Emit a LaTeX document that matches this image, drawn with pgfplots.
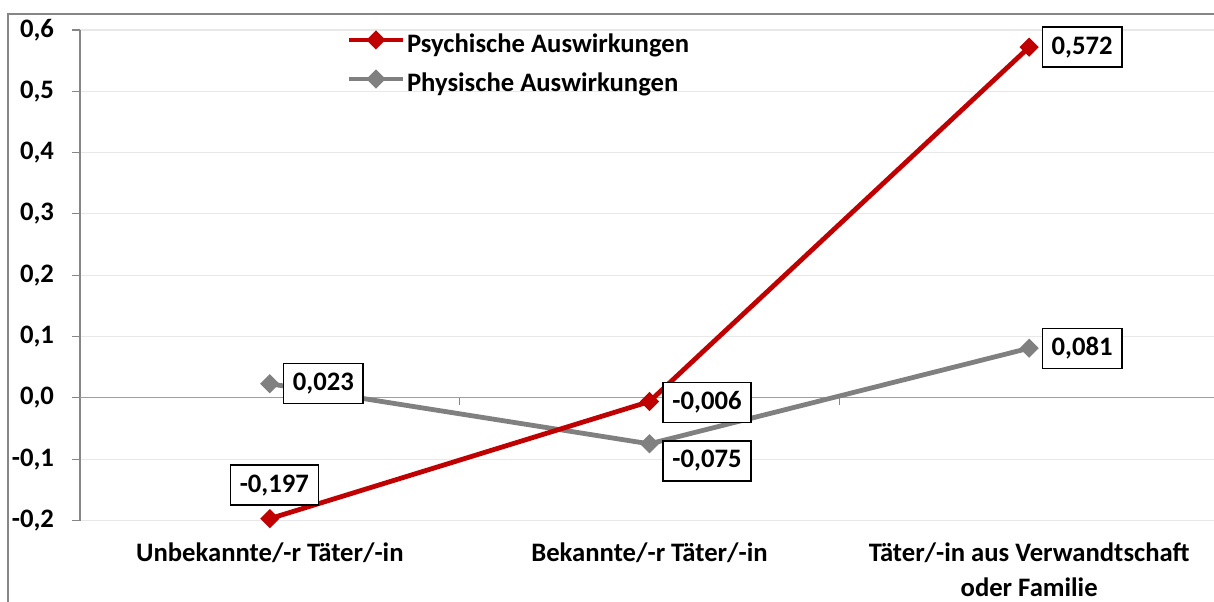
\documentclass[border=0pt]{standalone}
\usepackage{fontspec}
\setmainfont{Carlito}
\usepackage{pgfplots}
\usepackage{pgfplotstable}
\pgfplotsset{compat=1.18}
\definecolor{psyred}{HTML}{C00000}
\definecolor{phygray}{HTML}{808080}
\definecolor{axgray}{HTML}{868686}
\definecolor{gridgray}{HTML}{E8E8E8}
\newcommand\F{\fontsize{20}{26}\selectfont\bfseries}

\pgfplotstableread{
x y label dx dy
0 -0.197 -0,197 4.5 33.5
1 -0.006 -0,006 57.5 -1
2 0.572 0,572 53 0
}\psych
\pgfplotstableread{
x y label dx dy
0 0.023 0,023 53.5 0
1 -0.075 -0,075 57.5 -17
2 0.081 0,081 53 0
}\phys

\begin{document}
\begin{tikzpicture}
\useasboundingbox (0pt,0pt) rectangle (910.5pt,450.75pt);
\draw[axgray, line width=1.5pt] (6pt,-20pt) -- (6pt,440.25pt) -- (930pt,440.25pt);
\begin{axis}[
  at={(60pt,60.375pt)}, anchor=south west, scale only axis,
  width=854.25pt, height=367.9pt,
  xmin=-0.5, xmax=2.5, ymin=-0.2, ymax=0.6,
  axis x line*=bottom, axis y line*=left,
  x axis line style={draw=none},
  y axis line style={axgray, line width=0.8pt},
  xtick={0,1,2},
  xticklabels={Unbekannte/-r Täter/-in, Bekannte/-r Täter/-in, {Täter/-in aus Verwandtschaft\\oder Familie}},
  x tick style={draw=none},
  xticklabel style={font=\F, align=center, anchor=north, yshift=-7.5pt},
  ytick={-0.2,-0.1,0,0.1,0.2,0.3,0.4,0.5,0.6},
  y tick style={axgray, line width=0.8pt},
  tick align=outside, major tick length=6pt,
  yticklabel style={font=\F, xshift=-10pt, /pgf/number format/fixed, /pgf/number format/fixed zerofill, /pgf/number format/precision=1, /pgf/number format/use comma, /pgf/number format/assume math mode=true},
  ymajorgrids, grid style={gridgray, line width=0.8pt},
  extra y ticks={0}, extra y tick labels={}, extra y tick style={grid style={axgray!80, line width=0.8pt}},
  clip=false,
  reverse legend,
  legend image code/.code={
    \draw[#1, mark=none] (0pt,5pt) -- (41pt,5pt);
    \draw[#1, only marks] plot coordinates {(20.5pt,5pt)};
  },
  legend style={draw=none, fill=none, font=\F, at={(0.2300,1.0)}, anchor=north west,
    legend cell align=left, row sep=8.8pt, nodes={inner sep=1pt, text height=14pt, text depth=4.5pt}},
  every node near coord/.append style={anchor=center, xshift={\dx*0.75pt}, yshift={\dy*0.75pt},
    draw=black, fill=white, text=black, line width=1pt, font=\F, inner xsep=7pt, inner ysep=0pt,
    minimum height=30pt},
]
\addplot[phygray, line width=3.6pt, mark=square*, mark size=3.3pt, mark options={rotate=45, solid},
  nodes near coords, point meta=explicit symbolic,
  visualization depends on={\thisrow{dx}\as\dx},
  visualization depends on={\thisrow{dy}\as\dy}]
  table[x=x, y=y, meta=label]{\phys};
\addlegendentry{Physische Auswirkungen}
\addplot[psyred, line width=3.6pt, mark=square*, mark size=3.3pt, mark options={rotate=45, solid},
  nodes near coords, point meta=explicit symbolic,
  visualization depends on={\thisrow{dx}\as\dx},
  visualization depends on={\thisrow{dy}\as\dy}]
  table[x=x, y=y, meta=label]{\psych};
\addlegendentry{Psychische Auswirkungen}
\draw[axgray, line width=0.8pt] (axis cs:0.5,0) -- ([yshift=-5.5pt]axis cs:0.5,0);
\draw[axgray, line width=0.8pt] (axis cs:1.5,0) -- ([yshift=-5.5pt]axis cs:1.5,0);
\end{axis}
\end{tikzpicture}
\end{document}
